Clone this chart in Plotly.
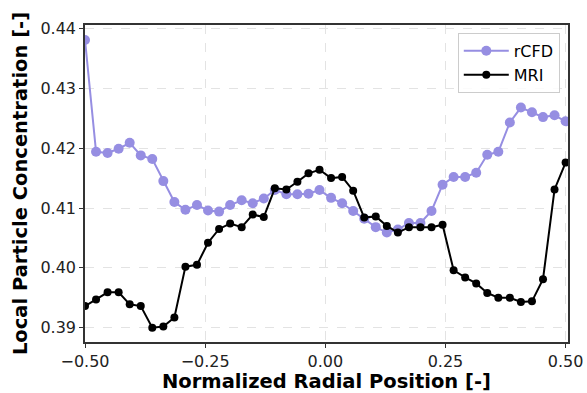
import plotly.graph_objects as go

x_pos = [-0.5, -0.477, -0.453, -0.43, -0.407, -0.384, -0.36, -0.337, -0.314, -0.291,
         -0.267, -0.244, -0.221, -0.198, -0.174, -0.151, -0.128, -0.105, -0.081, -0.058,
         -0.035, -0.012, 0.012, 0.035, 0.058, 0.081, 0.105, 0.128, 0.151, 0.174,
         0.198, 0.221, 0.244, 0.267, 0.291, 0.314, 0.337, 0.36, 0.384, 0.407,
         0.43, 0.453, 0.477, 0.5]

rcfd = [0.4381, 0.4194, 0.4192, 0.4199, 0.4209, 0.4188, 0.4182, 0.4145, 0.4110, 0.4097,
        0.4105, 0.4096, 0.4094, 0.4105, 0.4113, 0.4108, 0.4116, 0.4130, 0.4123, 0.4123,
        0.4124, 0.4130, 0.4117, 0.4108, 0.4095, 0.4082, 0.4068, 0.4059, 0.4064, 0.4075,
        0.4075, 0.4095, 0.4139, 0.4152, 0.4152, 0.4159, 0.4189, 0.4194, 0.4243, 0.4268,
        0.4260, 0.4252, 0.4255, 0.4245]

mri = [0.3936, 0.3947, 0.3959, 0.3959, 0.3939, 0.3936, 0.3900, 0.3902, 0.3917, 0.4002,
       0.4005, 0.4042, 0.4065, 0.4074, 0.4068, 0.4089, 0.4085, 0.4133, 0.4131, 0.4144,
       0.4158, 0.4164, 0.4150, 0.4152, 0.4129, 0.4084, 0.4086, 0.4070, 0.4059, 0.4068,
       0.4068, 0.4068, 0.4072, 0.3996, 0.3984, 0.3974, 0.3958, 0.3950, 0.3950, 0.3943,
       0.3944, 0.3981, 0.4131, 0.4176]

x_ticks = [-0.5, -0.25, 0.0, 0.25, 0.5]
x_ticklabels = ["\u22120.50", "\u22120.25", "0.00", "0.25", "0.50"]
y_ticks = [0.39, 0.40, 0.41, 0.42, 0.43, 0.44]
y_ticklabels = ["0.39", "0.40", "0.41", "0.42", "0.43", "0.44"]

FONT = "DejaVu Sans"
fig = go.Figure()
fig.add_trace(go.Scatter(
    x=x_pos, y=rcfd, name="rCFD", mode="lines+markers",
    line=dict(color="rgb(150,142,226)", width=2),
    marker=dict(color="rgb(150,142,226)", size=10),
))
fig.add_trace(go.Scatter(
    x=x_pos, y=mri, name="MRI", mode="lines+markers",
    line=dict(color="black", width=2),
    marker=dict(color="black", size=8),
))

axis_common = dict(
    showline=True, linecolor="#333333", linewidth=1.5, mirror=True,
    ticks="outside", ticklen=4, tickwidth=1.2, tickcolor="#333333",
    showgrid=True, gridcolor="#e3e3e3", gridwidth=1, griddash="dash",
    zeroline=False, automargin=False,
    tickfont=dict(family=FONT, size=16, color="#222222"),
)

fig.update_layout(
    width=587, height=393,
    margin=dict(l=85, r=19, t=25, b=51),
    paper_bgcolor="white", plot_bgcolor="white",
    font=dict(family=FONT, color="black"),
    xaxis=dict(range=[-0.5, 0.505], tickvals=x_ticks, ticktext=x_ticklabels,
               title=dict(text="<b>Normalized Radial Position [-]</b>",
                          font=dict(family=FONT, size=19.5), standoff=10),
               **axis_common),
    yaxis=dict(range=[0.3876, 0.4406], tickvals=y_ticks, ticktext=y_ticklabels,
               title=dict(text="<b>Local Particle Concentration [-]</b>",
                          font=dict(family=FONT, size=19.5), standoff=8),
               **axis_common),
    legend=dict(x=0.983, y=0.975, xanchor="right", yanchor="top",
                bgcolor="rgba(255,255,255,0.85)", bordercolor="#cccccc", borderwidth=1,
                itemwidth=45,
                font=dict(family=FONT, size=16)),
    showlegend=True,
)

fig.write_html("out.html")
